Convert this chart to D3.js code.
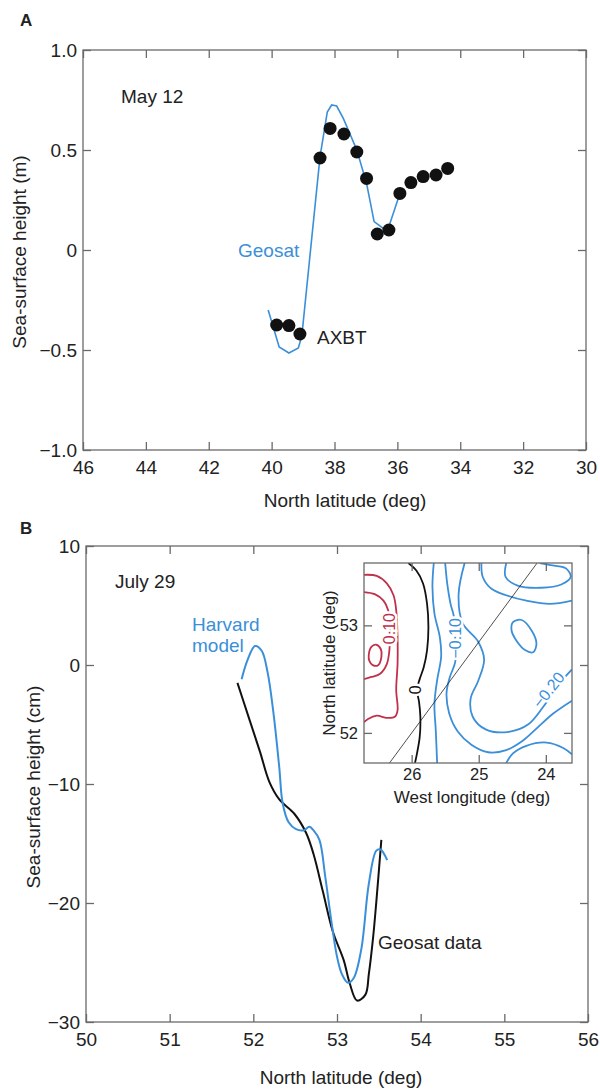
<!DOCTYPE html>
<html>
<head>
  <meta charset="utf-8">
  <title>Sea-surface height: Geosat, AXBT and Harvard model</title>
  <script src="https://d3js.org/d3.v7.min.js"></script>
  <style>
    body { margin: 0; background: #fff; }
    text { font-family: "Liberation Sans", Arial, Helvetica, sans-serif; fill: #222; }
    .frame { fill: none; stroke: #6a6a6a; stroke-width: 1.3; }
    .tick line { stroke: #6a6a6a; stroke-width: 1.3; }
    .domain { display: none; }
  </style>
</head>
<body>
<svg id="chart" width="600" height="1090"></svg>
<script>
// ---- panel A: May 12 ----
var axbtLat = [39.84, 39.45, 39.10, 38.46, 38.14, 37.70, 37.29, 36.98, 36.64, 36.27, 35.92, 35.57, 35.18, 34.77, 34.40];
var axbtHeight = [-0.375, -0.378, -0.42, 0.46, 0.608, 0.58, 0.49, 0.358, 0.08, 0.10, 0.283, 0.337, 0.367, 0.375, 0.408];
var geosatLatA = [40.11, 39.76, 39.45, 39.15, 39.04, 38.46, 38.23, 38.09, 37.93, 37.72, 37.29, 36.98, 36.74, 36.45, 36.29, 35.92];
var geosatHeightA = [-0.30, -0.485, -0.515, -0.49, -0.43, 0.467, 0.69, 0.725, 0.72, 0.658, 0.50, 0.333, 0.142, 0.108, 0.108, 0.283];
var latTicksA = [46, 44, 42, 40, 38, 36, 34, 32, 30];
var heightTicksA = [1.0, 0.5, 0, -0.5, -1.0];

// ---- panel B: July 29 ----
var geosatLatB = [51.81, 51.94, 52.08, 52.19, 52.31, 52.49, 52.63, 52.72, 52.83, 52.95, 53.08, 53.15, 53.24, 53.34, 53.38, 53.43, 53.47, 53.53];
var geosatHeightB = [-1.5, -4.3, -7.3, -9.8, -11.3, -12.5, -14.1, -15.9, -19.0, -22.4, -24.8, -26.7, -28.2, -27.7, -26.0, -23.0, -19.9, -14.7];
var harvardLat = [51.86, 51.93, 52.02, 52.10, 52.17, 52.24, 52.31, 52.35, 52.42, 52.51, 52.60, 52.67, 52.72, 52.79, 52.86, 52.93, 53.00, 53.06, 53.13, 53.20, 53.29, 53.38, 53.47, 53.52, 53.60];
var harvardHeight = [-1.2, 0.4, 1.6, 1.2, -0.6, -4.0, -8.6, -11.6, -13.2, -13.8, -13.9, -13.6, -13.9, -14.7, -17.8, -21.4, -24.5, -26.0, -26.7, -26.3, -23.9, -18.4, -15.6, -15.5, -16.4];
var latTicksB = [50, 51, 52, 53, 54, 55, 56];
var heightTicksB = [10, 0, -10, -20, -30];

// ---- inset: contour map (west longitude, north latitude) ----
var lonTicks = [26, 25, 24];
var insetLatTicks = [53, 52];
var track = [[26.33, 51.72], [24.13, 53.58]];
var contours = [
  { level: 0.10, pts: [[26.71,53.47],[26.52,53.46],[26.37,53.39],[26.27,53.28],[26.23,53.14],[26.21,52.89],[26.21,52.64],[26.23,52.40],[26.21,52.21],[26.25,52.15],[26.37,52.14],[26.52,52.16],[26.65,52.13],[26.71,52.10]] },
  { level: 0.10, pts: [[26.71,53.31],[26.55,53.29],[26.42,53.23],[26.35,53.14],[26.33,52.97],[26.33,52.78],[26.37,52.64],[26.47,52.55],[26.60,52.52],[26.71,52.50]] },
  { level: 0.10, closed: true, pts: [[26.64,52.72],[26.60,52.80],[26.53,52.82],[26.46,52.78],[26.45,52.71],[26.50,52.63],[26.58,52.63],[26.63,52.67]] },
  { level: 0, pts: [[26.05,53.58],[25.93,53.51],[25.83,53.39],[25.77,53.20],[25.75,52.98],[25.77,52.77],[25.82,52.61],[25.88,52.50],[25.92,52.40],[25.89,52.29],[25.87,52.15],[25.88,51.96],[25.92,51.81],[25.95,51.72]] },
  { level: -0.10, pts: [[25.67,53.58],[25.69,53.36],[25.66,53.11],[25.58,52.89],[25.56,52.71],[25.62,52.49],[25.66,52.27],[25.64,52.02],[25.62,51.72]] },
  { level: -0.10, pts: [[25.50,53.58],[25.47,53.39],[25.42,53.20],[25.37,53.08],[25.35,52.88],[25.35,52.66],[25.43,52.52],[25.48,52.37],[25.44,52.18],[25.31,52.01],[25.11,51.89],[24.86,51.82],[24.59,51.84],[24.36,51.92],[24.14,52.04],[23.89,52.18],[23.61,52.30]] },
  { level: -0.20, pts: [[25.21,53.58],[25.30,53.29],[25.24,53.02],[25.01,52.85],[24.92,52.68],[25.01,52.48],[25.12,52.32],[25.09,52.15],[24.89,52.03],[24.55,52.01],[24.26,52.08],[24.03,52.25],[23.81,52.45],[23.61,52.59]] },
  { level: -0.20, closed: true, pts: [[24.49,53.03],[24.36,53.05],[24.21,52.95],[24.14,52.83],[24.19,52.75],[24.31,52.77],[24.44,52.86],[24.51,52.95]] },
  { level: -0.20, pts: [[23.61,53.23],[23.94,53.20],[24.29,53.23],[24.59,53.28],[24.81,53.34],[24.94,53.45],[24.96,53.58]] },
  { level: -0.20, pts: [[24.59,53.58],[24.60,53.45],[24.42,53.37],[24.07,53.35],[23.77,53.38],[23.63,53.45],[23.70,53.53],[23.93,53.56],[24.09,53.58]] },
  { level: -0.20, pts: [[24.59,51.72],[24.49,51.81],[24.29,51.88],[23.99,51.91],[23.74,51.86],[23.61,51.80]] }
];
var contourLabels = [
  { text: "0.10", lon: 26.33, lat: 52.97, angle: -90, color: "#c0304a" },
  { text: "0", lon: 25.95, lat: 52.40, angle: -90, color: "#111" },
  { text: "\u22120.10", lon: 25.35, lat: 52.88, angle: -90, color: "#3b8fd9" },
  { text: "\u22120.20", lon: 23.96, lat: 52.40, angle: -52, color: "#3b8fd9" }
];

var blue = "#3b8fd9";
var red = "#c0304a";
var svg = d3.select("#chart");

function minusFmt(d, digits) {
  var s = digits ? Math.abs(d).toFixed(digits) : String(Math.abs(d));
  if (d === 0) return "0";
  return (d < 0 ? "\u2212" : "") + s;
}

function drawFrame(g, x, y, xTicks, yTicks, xFmt, yFmt, fontSize, xPad) {
  var w = x.range()[1] - x.range()[0];
  var h = y.range()[0] - y.range()[1];
  g.append("g").attr("transform", "translate(0," + y.range()[0] + ")")
    .call(d3.axisBottom(x).tickValues(xTicks).tickSizeInner(-8).tickSizeOuter(0).tickPadding(xPad).tickFormat(xFmt))
    .selectAll("text").style("font-size", fontSize + "px");
  g.append("g").attr("transform", "translate(0," + y.range()[1] + ")")
    .call(d3.axisTop(x).tickValues(xTicks).tickSizeInner(-8).tickSizeOuter(0).tickFormat(""));
  g.append("g").attr("transform", "translate(" + x.range()[0] + ",0)")
    .call(d3.axisLeft(y).tickValues(yTicks).tickSizeInner(-8).tickSizeOuter(0).tickPadding(6).tickFormat(yFmt))
    .selectAll("text").style("font-size", fontSize + "px");
  g.append("g").attr("transform", "translate(" + x.range()[1] + ",0)")
    .call(d3.axisRight(y).tickValues(yTicks).tickSizeInner(-8).tickSizeOuter(0).tickFormat(""));
  g.append("rect").attr("class", "frame")
    .attr("x", x.range()[0]).attr("y", y.range()[1]).attr("width", w).attr("height", h);
}

// ===== Panel A =====
var xA = d3.scaleLinear().domain([46, 30]).range([83, 586]);
var yA = d3.scaleLinear().domain([-1, 1]).range([450, 50]);
var gA = svg.append("g");
drawFrame(gA, xA, yA, latTicksA, heightTicksA, function(d) { return d; },
  function(d) { return minusFmt(d, d === 0 ? 0 : 1); }, 19, 11);

gA.append("path")
  .datum(d3.zip(geosatLatA, geosatHeightA))
  .attr("fill", "none").attr("stroke", blue).attr("stroke-width", 1.6)
  .attr("d", d3.line().x(function(d) { return xA(d[0]); }).y(function(d) { return yA(d[1]); }));

gA.selectAll("circle.axbt")
  .data(d3.zip(axbtLat, axbtHeight))
  .enter().append("circle").attr("class", "axbt")
  .attr("cx", function(d) { return xA(d[0]); })
  .attr("cy", function(d) { return yA(d[1]); })
  .attr("r", 6.5).attr("fill", "#111");

svg.append("text").attr("x", 20).attr("y", 26).style("font-size", "17px").style("font-weight", "bold").text("A");
svg.append("text").attr("x", 121).attr("y", 103).style("font-size", "19px").text("May 12");
svg.append("text").attr("x", 238).attr("y", 257).style("font-size", "19px").style("fill", blue).text("Geosat");
svg.append("text").attr("x", 317).attr("y", 344).style("font-size", "19px").text("AXBT");
svg.append("text").attr("x", 345).attr("y", 507).attr("text-anchor", "middle").style("font-size", "19px").text("North latitude (deg)");
svg.append("text").attr("transform", "translate(26,252) rotate(-90)").attr("text-anchor", "middle")
  .style("font-size", "19px").text("Sea-surface height (m)");

// ===== Panel B =====
var xB = d3.scaleLinear().domain([50, 56]).range([86, 588]);
var yB = d3.scaleLinear().domain([-30, 10]).range([1022, 546]);
var gB = svg.append("g");
drawFrame(gB, xB, yB, latTicksB, heightTicksB, function(d) { return d; },
  function(d) { return minusFmt(d, 0); }, 19, 11);

var lineB = d3.line().curve(d3.curveCatmullRom.alpha(0.5))
  .x(function(d) { return xB(d[0]); }).y(function(d) { return yB(d[1]); });
gB.append("path").datum(d3.zip(geosatLatB, geosatHeightB))
  .attr("fill", "none").attr("stroke", "#111").attr("stroke-width", 2).attr("d", lineB);
gB.append("path").datum(d3.zip(harvardLat, harvardHeight))
  .attr("fill", "none").attr("stroke", blue).attr("stroke-width", 2).attr("d", lineB);

svg.append("text").attr("x", 20).attr("y", 534).style("font-size", "17px").style("font-weight", "bold").text("B");
svg.append("text").attr("x", 115).attr("y", 588).style("font-size", "19px").text("July 29");
svg.append("text").attr("x", 192).attr("y", 631).style("font-size", "19px").style("fill", blue).text("Harvard");
svg.append("text").attr("x", 192).attr("y", 652).style("font-size", "19px").style("fill", blue).text("model");
svg.append("text").attr("x", 378).attr("y", 949).style("font-size", "19px").text("Geosat data");
svg.append("text").attr("x", 341).attr("y", 1084).attr("text-anchor", "middle").style("font-size", "19px").text("North latitude (deg)");
svg.append("text").attr("transform", "translate(40,787) rotate(-90)").attr("text-anchor", "middle")
  .style("font-size", "19px").text("Sea-surface height (cm)");

// ===== Inset =====
var xI = d3.scaleLinear().domain([26.71, 23.61]).range([364, 572]);
var yI = d3.scaleLinear().domain([51.72, 53.58]).range([763, 563]);
var gI = svg.append("g");
gI.append("rect").attr("x", 364).attr("y", 563).attr("width", 208).attr("height", 200).attr("fill", "#fff");
var clip = gI.append("clipPath").attr("id", "insetClip");
clip.append("rect").attr("x", 364).attr("y", 563).attr("width", 208).attr("height", 200);
var gC = gI.append("g").attr("clip-path", "url(#insetClip)");

var lineI = d3.line().x(function(d) { return xI(d[0]); }).y(function(d) { return yI(d[1]); });
function colorOf(level) { return level > 0 ? red : (level === 0 ? "#111" : blue); }
contours.forEach(function(c) {
  gC.append("path").datum(c.pts)
    .attr("fill", "none").attr("stroke", colorOf(c.level)).attr("stroke-width", 1.8)
    .attr("d", lineI.curve(c.closed ? d3.curveCatmullRomClosed : d3.curveCatmullRom)(c.pts));
});
gC.append("path").datum(track).attr("fill", "none").attr("stroke", "#222").attr("stroke-width", 0.8)
  .attr("d", d3.line().x(function(d) { return xI(d[0]); }).y(function(d) { return yI(d[1]); }));

contourLabels.forEach(function(l) {
  var px = xI(l.lon), py = yI(l.lat);
  gC.append("text").attr("transform", "translate(" + px + "," + py + ") rotate(" + l.angle + ")")
    .attr("text-anchor", "middle").attr("dy", "0.35em").style("font-size", "16px").style("fill", l.color)
    .style("stroke", "#fff").style("stroke-width", 5).style("paint-order", "stroke").text(l.text);
});

drawFrame(gI, xI, yI, lonTicks, insetLatTicks, function(d) { return d; }, function(d) { return d; }, 16.5, 5);
svg.append("text").attr("x", 472).attr("y", 803).attr("text-anchor", "middle").style("font-size", "17px").text("West longitude (deg)");
svg.append("text").attr("transform", "translate(335,663) rotate(-90)").attr("text-anchor", "middle")
  .style("font-size", "17px").text("North latitude (deg)");
</script>
</body>
</html>
